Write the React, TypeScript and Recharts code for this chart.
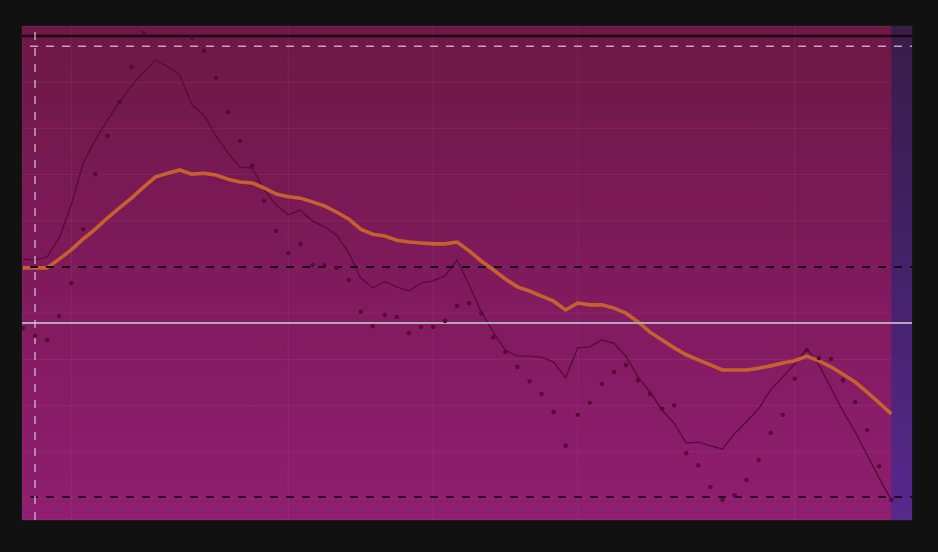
import React from 'react';
import {
  ComposedChart,
  Line,
  XAxis,
  YAxis,
  CartesianGrid,
  ReferenceLine,
  ReferenceArea,
} from 'recharts';

// Raw observations (dots)
const rawValues = [
  36.8, 35.1, 34.2, 39.4, 46.5, 58.2, 70.1, 78.4, 85.7, 93.3,
  100.6, 106.0, 108.5, 104.5, 99.6, 96.8, 90.9, 83.5, 77.3, 71.9,
  64.3, 57.8, 53.0, 55.0, 50.4, 50.4, 49.8, 47.2, 40.3, 37.2,
  39.6, 39.2, 35.7, 37.0, 37.0, 38.3, 41.6, 42.2, 40.0, 34.8,
  31.6, 28.4, 25.3, 22.5, 18.6, 11.3, 18.0, 20.6, 24.7, 27.3,
  28.8, 25.5, 22.5, 19.3, 20.1, 9.7, 7.1, 2.4, -0.4, 0.6,
  3.9, 8.2, 14.1, 18.0, 25.8, 32.0, 30.3, 30.1, 25.5, 20.8,
  14.7, 6.9, -0.4,
];

// Short smoothing (thin dark line)
const fastValues = [
  51.7, 51.5, 52.2, 56.3, 63.4, 72.5, 77.5, 81.8, 85.7, 89.2,
  92.2, 94.8, 93.3, 91.6, 85.1, 82.9, 78.4, 74.7, 71.6, 71.4,
  66.7, 63.4, 61.3, 62.3, 60.0, 58.7, 56.9, 53.2, 47.6, 45.5,
  46.8, 45.7, 44.8, 46.5, 47.0, 48.1, 51.5, 46.1, 40.3, 35.9,
  32.0, 30.7, 30.7, 30.5, 29.4, 26.0, 32.5, 32.7, 34.2, 33.5,
  30.7, 26.2, 22.9, 19.0, 16.2, 11.9, 12.1, 11.3, 10.6, 13.9,
  16.5, 19.3, 23.4, 26.2, 29.0, 32.3, 28.8, 23.8, 18.8, 14.3,
  9.3, 4.3, -0.4,
];

// Long smoothing (thick orange line)
const slowValues = [
  49.8, 49.8, 49.8, 51.7, 53.7, 56.1, 58.2, 60.6, 62.8, 64.9,
  67.3, 69.5, 70.3, 71.0, 70.1, 70.3, 69.9, 69.0, 68.4, 68.2,
  67.1, 65.8, 65.2, 64.9, 64.1, 63.2, 61.9, 60.4, 58.2, 57.1,
  56.7, 55.8, 55.4, 55.2, 55.0, 55.0, 55.4, 53.5, 51.3, 49.4,
  47.4, 45.7, 44.8, 43.7, 42.6, 40.7, 42.2, 41.8, 41.8, 41.1,
  40.0, 38.1, 35.9, 34.2, 32.5, 31.0, 29.9, 28.8, 27.7, 27.7,
  27.7, 28.1, 28.6, 29.2, 29.7, 30.7, 29.7, 28.4, 26.8, 25.1,
  22.9, 20.6, 18.2,
];

const xTicks = [4, 22, 34, 46, 64];
const yTicks = [0, 10, 20, 30, 40, 50, 60, 70, 80, 90, 100];

const levelMax = 100;
const levelUpper = 97.8;
const levelMid = 50;
const levelMean = 37.9;
const levelMin = 0.2;
const markerX = 1;
const zoneStart = 72;

const data = rawValues.map((v, i) => ({
  i,
  raw: v,
  fast: fastValues[i],
  slow: slowValues[i],
}));

const X_DOMAIN: [number, number] = [-0.08, 73.72];
const Y_DOMAIN: [number, number] = [-4.76, 102.16];

export default function App() {
  return (
    <div
      style={{
        position: 'fixed',
        left: 0,
        top: 0,
        width: 938,
        height: 552,
        background: '#111111',
      }}
    >
      <ComposedChart
        width={938}
        height={552}
        data={data}
        margin={{ top: 26, right: 26, bottom: 32, left: 22 }}
      >
        <defs>
          <linearGradient id="bgGrad" x1="0" y1="0" x2="0" y2="1">
            <stop offset="0%" stopColor="#6e1846" />
            <stop offset="50%" stopColor="#7f1a5c" />
            <stop offset="100%" stopColor="#8f1e70" />
          </linearGradient>
          <linearGradient id="zoneGrad" x1="0" y1="0" x2="0" y2="1">
            <stop offset="0%" stopColor="#3a1c48" />
            <stop offset="50%" stopColor="#45216a" />
            <stop offset="100%" stopColor="#58288e" />
          </linearGradient>
        </defs>
        <XAxis
          dataKey="i"
          type="number"
          domain={X_DOMAIN}
          ticks={xTicks}
          allowDataOverflow
          hide
        />
        <YAxis
          type="number"
          domain={Y_DOMAIN}
          ticks={yTicks}
          allowDataOverflow
          hide
        />
        <CartesianGrid
          fill="url(#bgGrad)"
          fillOpacity={1}
          stroke="rgba(255,255,255,0.06)"
          strokeWidth={1}
        />
        <ReferenceArea
          x1={zoneStart}
          x2={X_DOMAIN[1]}
          y1={Y_DOMAIN[0]}
          y2={Y_DOMAIN[1]}
          fill="url(#zoneGrad)"
          fillOpacity={1}
          stroke="none"
          ifOverflow="hidden"
        />
        <Line
          dataKey="raw"
          stroke="none"
          dot={{ r: 2.2, fill: '#580936', stroke: 'none' }}
          activeDot={false}
          isAnimationActive={false}
        />
        <Line
          dataKey="fast"
          type="linear"
          stroke="#580c3a"
          strokeWidth={1.4}
          dot={false}
          activeDot={false}
          isAnimationActive={false}
        />
        <Line
          dataKey="slow"
          type="linear"
          stroke="#c4612e"
          strokeWidth={3.6}
          dot={false}
          activeDot={false}
          isAnimationActive={false}
        />
        <ReferenceLine y={levelMax} stroke="#1a0510" strokeWidth={2.5} />
        <ReferenceLine
          y={levelUpper}
          stroke="rgba(225,195,220,0.8)"
          strokeWidth={1.5}
          strokeDasharray="8 8"
          strokeDashoffset={8}
        />
        <ReferenceLine
          y={levelMid}
          stroke="#1a0512"
          strokeWidth={2}
          strokeDasharray="8 8"
          strokeDashoffset={8}
        />
        <ReferenceLine y={levelMean} stroke="#b4a4bc" strokeWidth={2} />
        <ReferenceLine
          y={levelMin}
          stroke="#2a0620"
          strokeWidth={2}
          strokeDasharray="8 8"
          strokeDashoffset={8}
        />
        <ReferenceLine
          x={markerX}
          stroke="rgba(225,195,220,0.8)"
          strokeWidth={1.5}
          strokeDasharray="8 8"
        />
      </ComposedChart>
    </div>
  );
}
